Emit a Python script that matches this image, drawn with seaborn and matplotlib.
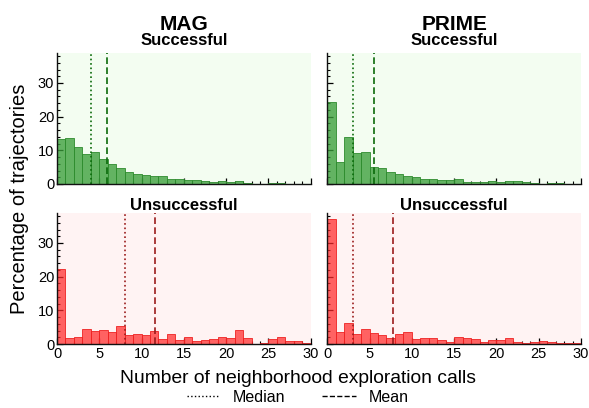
import numpy as np
import pandas as pd
import matplotlib
matplotlib.use("Agg")
import matplotlib.pyplot as plt
from matplotlib.lines import Line2D
from matplotlib.ticker import MultipleLocator
import seaborn as sns

# ---- data (percentage of trajectories per 1-call bin, 0..29) ----
bins = list(range(31))
centers = [b + 0.5 for b in range(30)]

mag_success = [13.5, 13.8, 11.0, 8.9, 9.5, 7.3, 6.0, 4.7, 3.5, 2.9, 2.6, 2.3, 2.3, 1.4, 1.4,
               1.1, 1.3, 1.0, 0.7, 1.0, 0.5, 1.0, 0.3, 0.1, 0.1, 0.4, 0.3, 0.1, 0.1, 0.0]
prime_success = [24.3, 6.5, 14.0, 9.1, 9.4, 5.1, 4.8, 3.5, 3.1, 2.4, 2.0, 1.4, 1.4, 1.1, 1.1,
                 1.4, 0.7, 0.7, 0.7, 1.0, 0.5, 1.0, 1.0, 0.7, 0.3, 0.0, 0.2, 0.3, 0.0, 0.0]
mag_fail = [22.2, 1.8, 2.1, 4.5, 3.9, 4.2, 3.6, 5.4, 2.7, 3.0, 2.7, 3.9, 1.5, 3.0, 1.2,
            2.1, 0.9, 1.2, 1.5, 2.1, 1.8, 4.2, 1.8, 0.0, 0.3, 1.5, 2.1, 0.9, 0.9, 0.3]
prime_fail = [37.2, 3.6, 6.3, 3.0, 4.5, 3.3, 2.7, 1.8, 3.0, 3.6, 1.5, 1.8, 1.8, 1.2, 0.6,
              2.1, 1.8, 1.5, 0.6, 1.2, 1.2, 1.8, 0.6, 0.3, 0.6, 0.9, 0.6, 0.3, 0.3, 0.3]

medians = {"MAG": {"Successful": 4.0, "Unsuccessful": 8.0},
           "PRIME": {"Successful": 3.0, "Unsuccessful": 3.0}}
means = {"MAG": {"Successful": 5.95, "Unsuccessful": 11.6},
         "PRIME": {"Successful": 5.5, "Unsuccessful": 7.75}}

models = ["MAG", "PRIME"]
outcomes = ["Successful", "Unsuccessful"]
values = {("MAG", "Successful"): mag_success, ("PRIME", "Successful"): prime_success,
          ("MAG", "Unsuccessful"): mag_fail, ("PRIME", "Unsuccessful"): prime_fail}

# ---- style ----
sns.set_theme(style="ticks")
plt.rcParams["font.family"] = ["Liberation Sans", "DejaVu Sans"]
plt.rcParams["text.color"] = "black"
plt.rcParams["axes.labelcolor"] = "black"
plt.rcParams["xtick.color"] = "black"
plt.rcParams["ytick.color"] = "black"

styles = {
    "Successful": dict(bg="#f3fdf1", bar="#3a9e3a", edge="#2e8b2e", line="#0a6a0a", alpha=0.78),
    "Unsuccessful": dict(bg="#fff3f3", bar="#ff2a2a", edge="#ee2222", line="#9b1b1b", alpha=0.72),
}

fig = plt.figure(figsize=(5.89, 4.08), dpi=100)
W, H = 589.0, 408.0
lefts = [57.0, 327.3]
tops = [53.0, 213.0]
aw, ah = 253.7, 131.0

for r, outcome in enumerate(outcomes):
    st = styles[outcome]
    for c, model in enumerate(models):
        ax = fig.add_axes([lefts[c] / W, 1 - (tops[r] + ah) / H, aw / W, ah / H])
        ax.set_facecolor(st["bg"])
        df = pd.DataFrame({"calls": centers, "pct": values[(model, outcome)]})
        sns.histplot(data=df, x="calls", weights="pct", bins=bins, ax=ax,
                     color=st["bar"], alpha=st["alpha"], edgecolor=st["edge"],
                     linewidth=0.6)
        ax.axvline(medians[model][outcome], color=st["line"], ls=":", lw=1.2)
        ax.axvline(means[model][outcome], color=st["line"], ls=(0, (4, 2)), lw=1.2)
        ax.set_xlim(0, 30)
        ax.set_ylim(0, 38.9)
        ax.xaxis.set_major_locator(MultipleLocator(5))
        ax.xaxis.set_minor_locator(MultipleLocator(1))
        ax.yaxis.set_major_locator(MultipleLocator(10))
        ax.yaxis.set_minor_locator(MultipleLocator(2))
        ax.tick_params(which="both", direction="in", top=False, right=False,
                       color="black", labelcolor="black", labelsize=10.5, pad=2)
        ax.tick_params(which="major", length=4, width=0.9)
        ax.tick_params(which="minor", length=2.2, width=0.8)
        for s in ["top", "right"]:
            ax.spines[s].set_visible(False)
        for s in ["left", "bottom"]:
            ax.spines[s].set_color("#111111")
            ax.spines[s].set_linewidth(1.0)
        ax.set_xlabel("")
        ax.set_ylabel("")
        if r == 0:
            ax.tick_params(labelbottom=False)
            ax.set_title(outcome, fontsize=12, fontweight="bold", pad=6, color="black")
        else:
            ax.set_title(outcome, fontsize=12, fontweight="bold", pad=2, color="black")
        if c == 1:
            ax.tick_params(labelleft=False)
        if r == 0:
            fig.text((lefts[c] + aw / 2) / W, 1 - 29.5 / H, model, ha="center",
                     va="baseline", fontsize=15, fontweight="bold", color="black")

fig.text(20 / W, 0.5 * (1 - 53 / H + 1 - 344 / H), "Percentage of trajectories",
         rotation=90, ha="center", va="center", fontsize=14.5, color="black")
fig.text(297.5 / W, 1 - 383 / H, "Number of neighborhood exploration calls",
         ha="center", va="baseline", fontsize=13.9, color="black")

handles = [Line2D([0], [0], color="black", ls=":", lw=1.0),
           Line2D([0], [0], color="black", ls="--", lw=1.0)]
fig.legend(handles, ["Median", "Mean"], loc="lower center", bbox_to_anchor=(0.505, -0.028),
           ncol=2, frameon=False, fontsize=11.5, handlelength=2.1, handletextpad=0.8,
           columnspacing=2.3)

fig.savefig("out.png", dpi=100)
